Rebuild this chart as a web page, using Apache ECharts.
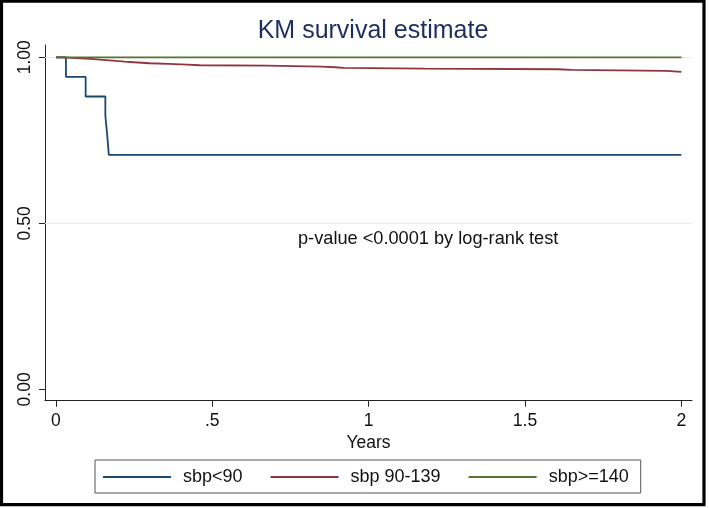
<!DOCTYPE html>
<html>
<head>
<meta charset="utf-8">
<script src="https://cdn.jsdelivr.net/npm/echarts@6/dist/echarts.min.js"></script>
<style>
html,body{margin:0;padding:0;background:#fff;}
#chart{width:709px;height:508px;}
</style>
</head>
<body>
<div id="chart"></div>
<script>
// ---- data ----
var seriesNames = ['sbp<90', 'sbp 90-139', 'sbp>=140'];
var blueTimes = [0, 0.032, 0.095, 0.158, 0.164, 0.169, 2.0];
var blueSurv  = [1, 0.941, 0.882, 0.824, 0.765, 0.706, 0.706];
var redTimes = [0, 0.02, 0.05, 0.08, 0.11, 0.14, 0.17, 0.194, 0.22, 0.25, 0.30, 0.36, 0.42, 0.46, 0.674, 0.85, 0.892, 0.921, 1.18, 1.605, 1.649, 1.953, 2.0];
var redSurv  = [1, 0.9985, 0.997, 0.995, 0.993, 0.991, 0.989, 0.987, 0.985, 0.982, 0.980, 0.978, 0.976, 0.975, 0.972, 0.970, 0.968, 0.966, 0.964, 0.962, 0.959, 0.956, 0.956];
var greenTimes = [0, 2.0];
var greenSurv  = [1, 1];
var xTicks = [0, 0.5, 1, 1.5, 2];
var xTickLabels = ['0', '.5', '1', '1.5', '2'];
var yTicks = [0, 0.5, 1];
var yTickLabels = ['0.00', '0.50', '1.00'];
var gridValues = [0.5, 1];
var titleText = 'KM survival estimate';
var xAxisName = 'Years';
var noteText = 'p-value <0.0001 by log-rank test';

function pairs(xs, ys) { return xs.map(function (x, i) { return [x, ys[i]]; }); }

var FONT = "'Liberation Sans', Arial, Helvetica, sans-serif";
var colors = ['#1a476f', '#90353b', '#55752f'];

var chart = echarts.init(document.getElementById('chart'), null, {renderer: 'canvas'});
var option = {
  animation: false,
  backgroundColor: '#ffffff',
  textStyle: {fontFamily: FONT},
  title: {
    text: titleText,
    left: 368,
    textAlign: 'center',
    top: 14,
    textStyle: {fontFamily: FONT, fontSize: 25, fontWeight: 'normal', color: '#1e2f5e'}
  },
  grid: {left: 45, right: 17, top: 45, bottom: 107.3, containLabel: false},
  xAxis: {
    type: 'value',
    min: -0.035,
    max: 2.034,
    name: xAxisName,
    nameLocation: 'middle',
    nameGap: 28,
    nameTextStyle: {fontFamily: FONT, fontSize: 17.5, color: '#111'},
    axisLine: {show: true, onZero: false, lineStyle: {color: '#222', width: 1}},
    axisTick: {show: true, length: 6, customValues: xTicks, lineStyle: {color: '#222'}},
    axisLabel: {
      customValues: xTicks,
      margin: 11,
      fontFamily: FONT, fontSize: 17.5, color: '#111',
      formatter: function (v) { var i = xTicks.indexOf(v); return i >= 0 ? xTickLabels[i] : ''; }
    },
    splitLine: {show: false}
  },
  yAxis: {
    type: 'value',
    min: -0.034,
    max: 1.037,
    axisLine: {show: true, onZero: false, lineStyle: {color: '#222', width: 1}},
    axisTick: {show: true, length: 6, customValues: yTicks, lineStyle: {color: '#222'}},
    axisLabel: {
      customValues: yTicks,
      rotate: 90,
      margin: 11,
      fontFamily: FONT, fontSize: 17.5, color: '#111',
      formatter: function (v) { var i = yTicks.indexOf(v); return i >= 0 ? yTickLabels[i] : ''; }
    },
    splitLine: {show: false}
  },
  legend: {
    left: 95,
    top: 460,
    orient: 'horizontal',
    itemWidth: 68,
    itemHeight: 2,
    itemGap: 28,
    borderColor: '#555',
    borderWidth: 1,
    padding: [7, 12, 6, 8],
    textStyle: {fontFamily: FONT, fontSize: 18, color: '#111', lineHeight: 20, padding: [0, 0, 0, 7]},
    data: seriesNames.map(function (n) { return {name: n, icon: 'rect'}; })
  },
  series: [
    {
      name: 'gridlines', type: 'line', data: [], z: 0, silent: true,
      markLine: {
        silent: true, symbol: ['none', 'none'], label: {show: false},
        lineStyle: {color: '#dfeded', width: 1, type: 'solid'},
        data: gridValues.map(function (v) { return {yAxis: v}; })
      }
    },
    {name: seriesNames[0], type: 'line', step: 'end', showSymbol: false, symbol: 'none', z: 3,
     data: pairs(blueTimes, blueSurv), lineStyle: {color: colors[0], width: 1.8}, itemStyle: {color: colors[0]}},
    {name: seriesNames[1], type: 'line', step: 'end', showSymbol: false, symbol: 'none', z: 4,
     data: pairs(redTimes, redSurv), lineStyle: {color: colors[1], width: 1.8}, itemStyle: {color: colors[1]}},
    {name: seriesNames[2], type: 'line', step: 'end', showSymbol: false, symbol: 'none', z: 5,
     data: pairs(greenTimes, greenSurv), lineStyle: {color: colors[2], width: 1.8}, itemStyle: {color: colors[2]}}
  ],
  graphic: [
    {type: 'text', left: 298, top: 230, z: 10, silent: true,
     style: {text: noteText, font: '18.2px ' + FONT, fill: '#111'}},
    {type: 'rect', silent: true, z: 20,
     shape: {x: 1.5, y: 1.2, width: 702.5, height: 503.5},
     style: {fill: 'none', stroke: '#000', lineWidth: 3.2}}
  ]
};
chart.setOption(option);
</script>
</body>
</html>
